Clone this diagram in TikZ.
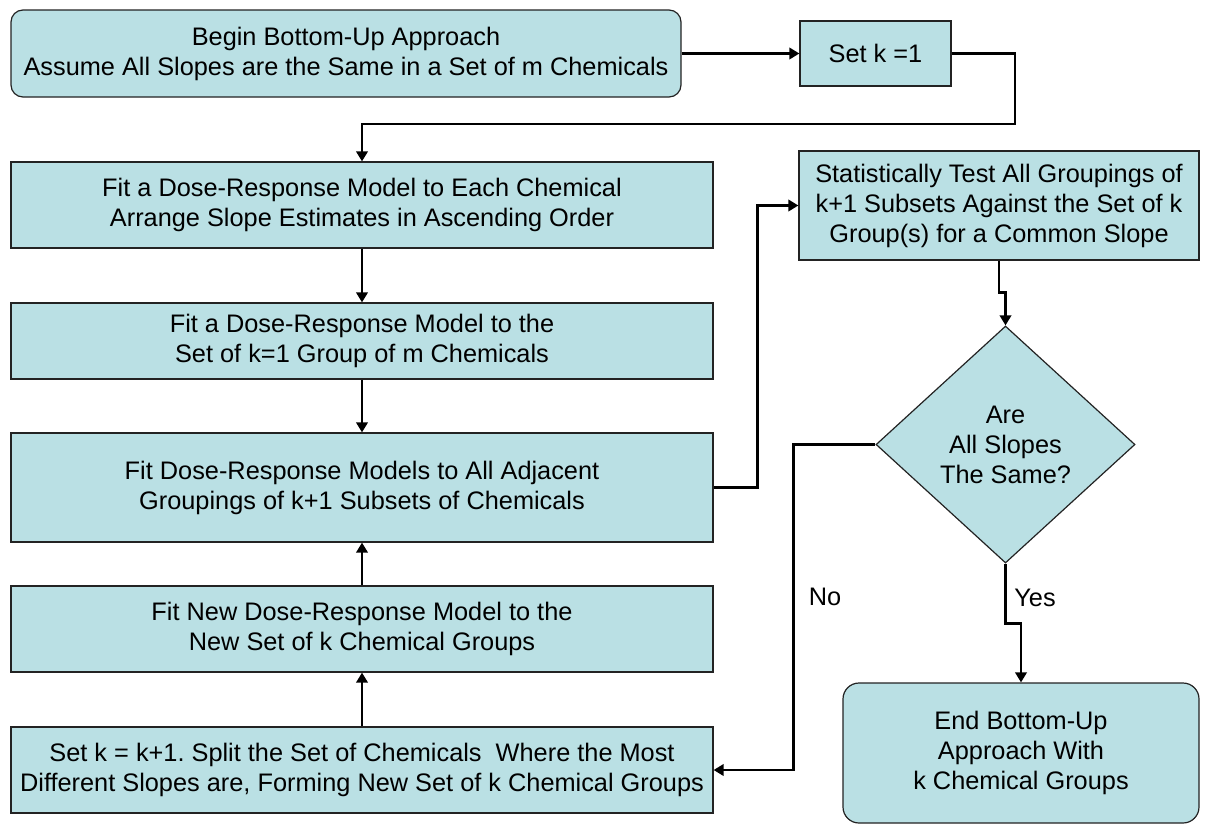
\documentclass[tikz,border=0pt]{standalone}
\usepackage{fontspec}
\setmainfont{Liberation Sans}
\usetikzlibrary{shapes.geometric,arrows.meta}
\definecolor{boxfill}{RGB}{186,224,228}
\definecolor{boxline}{RGB}{35,35,35}
\frenchspacing
\begin{document}
\begin{tikzpicture}[x=0.75pt,y=-0.75pt,
  every node/.style={font=\fontsize{19}{22.5}\selectfont},
  stepbox/.style={draw=boxline,line width=0.9pt,fill=boxfill,align=center,inner sep=0pt,rectangle},
  roundbox/.style={stepbox,rounded corners=9pt},
  decision/.style={draw=boxline,line width=0.9pt,fill=boxfill,align=center,diamond,inner sep=0pt},
  arr/.style={line width=2pt,-{Triangle[length=7.5pt,width=8.5pt]}},
  lbl/.style={inner sep=0pt}]
\useasboundingbox (0,0) rectangle (1205,825);
\node[roundbox,minimum width=502.5pt,minimum height=65.25pt] (start) at (346,53.5)
  {Begin Bottom-Up Approach\\Assume All Slopes are the Same in a Set of m Chemicals};
\node[stepbox,minimum width=113.25pt,minimum height=48.75pt] (setk) at (875.5,53.5) {Set k =1};
\node[stepbox,minimum width=526.5pt,minimum height=64.5pt] (fit1) at (362,205)
  {Fit a Dose-Response Model to Each Chemical\\Arrange Slope Estimates in Ascending Order};
\node[stepbox,minimum width=526.5pt,minimum height=57pt] (fit2) at (362,341)
  {Fit a Dose-Response Model to the\\Set of k=1 Group of m Chemicals};
\node[stepbox,minimum width=526.5pt,minimum height=81.75pt] (fit3) at (362,487.5)
  {Fit Dose-Response Models to All Adjacent\\Groupings of k+1 Subsets of Chemicals};
\node[stepbox,minimum width=526.5pt,minimum height=64.5pt] (fit4) at (362,629)
  {Fit New Dose-Response Model to the\\New Set of k Chemical Groups};
\node[stepbox,minimum width=526.5pt,minimum height=64.5pt] (split) at (362,770)
  {Set k = k+1. Split the Set of Chemicals\ \ Where the Most\\Different Slopes are, Forming New Set of k Chemical Groups};
\node[stepbox,minimum width=300pt,minimum height=81.75pt] (stat) at (999,205.5)
  {Statistically Test All Groupings of\\k+1 Subsets Against the Set of k\\Group(s) for a Common Slope};
\node[decision,minimum width=194.25pt,minimum height=177.75pt] (dia) at (1005.5,444.5)
  {Are\\All Slopes\\The Same?};
\node[roundbox,rounded corners=12pt,minimum width=267pt,minimum height=105pt] (end) at (1021,753)
  {End Bottom-Up\\Approach With\\k Chemical Groups};
\coordinate (j1) at (1015,124);
\draw[arr] (start.east) -- (setk.west);
\draw[arr] (setk.east) -| (j1) -| (fit1.north);
\draw[arr] (fit1.south) -- (fit2.north);
\draw[arr] (fit2.south) -- (fit3.north);
\draw[arr] (split.north) -- (fit4.south);
\draw[arr] (fit4.north) -- (fit3.south);
\draw[arr] (fit3.east) -- ++(44,0) |- (stat.west);
\draw[arr] (stat.south) -- ++(0,32) -| (dia.north);
\draw[arr] (dia.west) -- ++(-82,0) |- (split.east);
\draw[arr] (dia.south) -- ++(0,60) -| (end.north);
\node[lbl] (no) at (825,597) {No};
\node[lbl] (yes) at (1035,598) {Yes};
\end{tikzpicture}
\end{document}
